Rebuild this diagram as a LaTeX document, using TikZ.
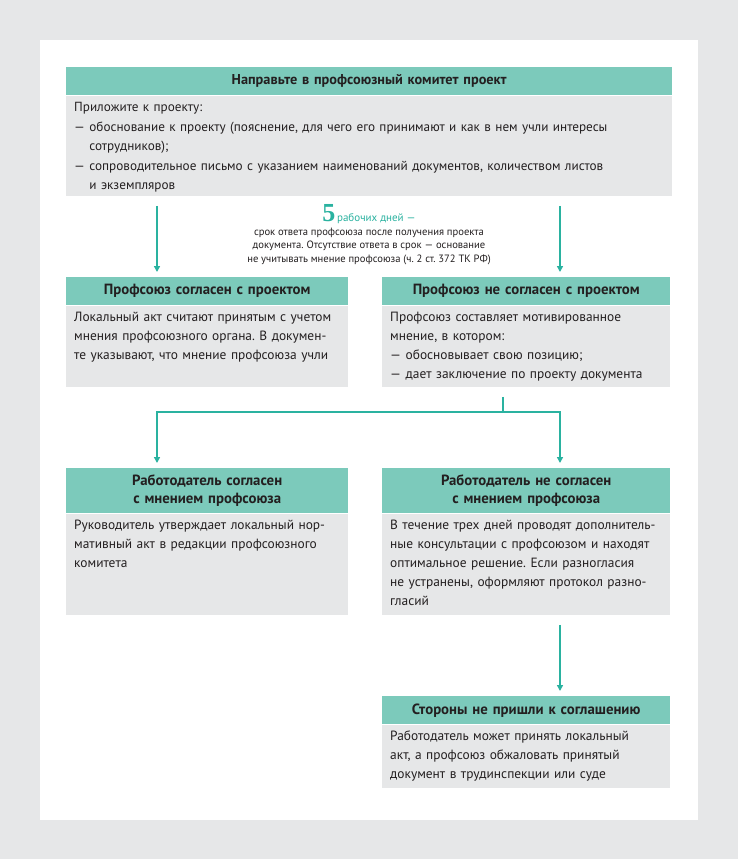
\documentclass[tikz,border=0pt]{standalone}
\usepackage{fontspec}
\setmainfont{PT Sans}
\newfontfamily\numfont{Liberation Serif}
\usetikzlibrary{arrows.meta}
\definecolor{pagegray}{HTML}{E6E7E8}
\definecolor{headteal}{HTML}{7CCABB}
\definecolor{linkteal}{HTML}{2AB2A0}
\definecolor{inkdark}{HTML}{231F20}
\frenchspacing
\tikzset{
  head/.style={rectangle,fill=headteal,text=inkdark,anchor=north west,inner sep=0pt,
    align=center,font=\bfseries\fontsize{14.8}{18}\selectfont,minimum height=28pt},
  body/.style={rectangle,fill=pagegray,text=inkdark,anchor=north west,inner xsep=8pt,
    inner ysep=6pt,align=left,text height=10pt,font=\fontsize{13.4}{19}\selectfont},
  link/.style={draw=linkteal,line width=1.6pt},
  arr/.style={link,-{Triangle[width=6pt,length=6pt]},shorten <=10pt,shorten >=5pt}
}
\begin{document}
\begin{tikzpicture}[x=1pt,y=-1pt]
  \useasboundingbox (0,0) rectangle (738,859);
  % draw background and white sheet
  \fill[pagegray] (0,0) rectangle (738,859);
  \fill[white] (40,40) rectangle (698,820);
  % columns for the arrows
  \coordinate (lcol) at (157,0);
  \coordinate (rcol) at (560,0);
  % draw top box
  \node at(66,67)[head,text width=606pt,font=\bfseries\fontsize{14.3}{18}\selectfont](sendhead){Направьте в профсоюзный комитет проект};
  \node at(sendhead.south west)[body,text width=590pt,text depth=78pt,font=\fontsize{13.2}{19.5}\selectfont](sendbody){Приложите к проекту:\\
    — обоснование к проекту (пояснение, для чего его принимают и как в нем учли интересы\\
    \hphantom{— }сотрудников);\\
    — сопроводительное письмо с указанием наименований документов, количеством листов\\
    \hphantom{— }и экземпляров};
  % draw deadline note
  \node at(369,201)[anchor=north,align=center,text=inkdark,font=\fontsize{10.6}{13.6}\selectfont](deadline){%
    {\numfont\bfseries\fontsize{26}{20}\selectfont\color{linkteal}5}\,{\color{linkteal}\fontsize{11}{13.6}\selectfont рабочих дней —}\\
    срок ответа профсоюза после получения проекта\\
    документа. Отсутствие ответа в срок — основание\\
    не учитывать мнение профсоюза (ч. 2 ст. 372 ТК РФ)};
  % draw second row
  \node at(66,277)[head,text width=282pt](agreehead){Профсоюз согласен с проектом};
  \node at(agreehead.south west)[body,text width=266pt,text depth=59pt](agreebody){Локальный акт считают принятым с учетом\\
    мнения профсоюзного органа. В докумен-\\
    те указывают, что мнение профсоюза учли};
  \node at(382,277)[head,text width=288pt](disagreehead){Профсоюз не согласен с проектом};
  \node at(disagreehead.south west)[body,text width=272pt,text depth=59pt](disagreebody){Профсоюз составляет мотивированное\\
    мнение, в котором:\\
    — обосновывает свою позицию;\\
    — дает заключение по проекту документа};
  % draw third row
  \node at(66,468)[head,text width=282pt,minimum height=45pt](empyeshead){Работодатель согласен\\с мнением профсоюза};
  \node at(empyeshead.south west)[body,text width=266pt,text depth=79pt](empyesbody){Руководитель утверждает локальный нор-\\
    мативный акт в редакции профсоюзного\\
    комитета};
  \node at(382,468)[head,text width=288pt,minimum height=45pt](empnohead){Работодатель не согласен\\с мнением профсоюза};
  \node at(empnohead.south west)[body,text width=272pt,text depth=79pt](empnobody){В течение трех дней проводят дополнитель-\\
    ные консультации с профсоюзом и находят\\
    оптимальное решение. Если разногласия\\
    не устранены, оформляют протокол разно-\\
    гласий};
  % draw bottom box
  \node at(382,696)[head,text width=288pt](nodealhead){Стороны не пришли к соглашению};
  \node at(nodealhead.south west)[body,text width=272pt,text depth=41pt](nodealbody){Работодатель может принять локальный\\
    акт, а профсоюз обжаловать принятый\\
    документ в трудинспекции или суде};
  % draw arrows
  \draw [arr](sendbody.south -| lcol) -- (agreehead.north -| lcol);
  \draw [arr](sendbody.south -| rcol) -- (disagreehead.north -| rcol);
  \coordinate (fork) at (503,412);
  \draw [link,shorten <=10pt](disagreebody.south -| fork) -- (fork);
  \draw [arr,shorten <=0pt](fork) -| (empyeshead.north -| lcol);
  \draw [arr,shorten <=0pt](fork) -| (empnohead.north -| rcol);
  \draw [arr](empnobody.south -| rcol) -- (nodealhead.north -| rcol);
\end{tikzpicture}
\end{document}
